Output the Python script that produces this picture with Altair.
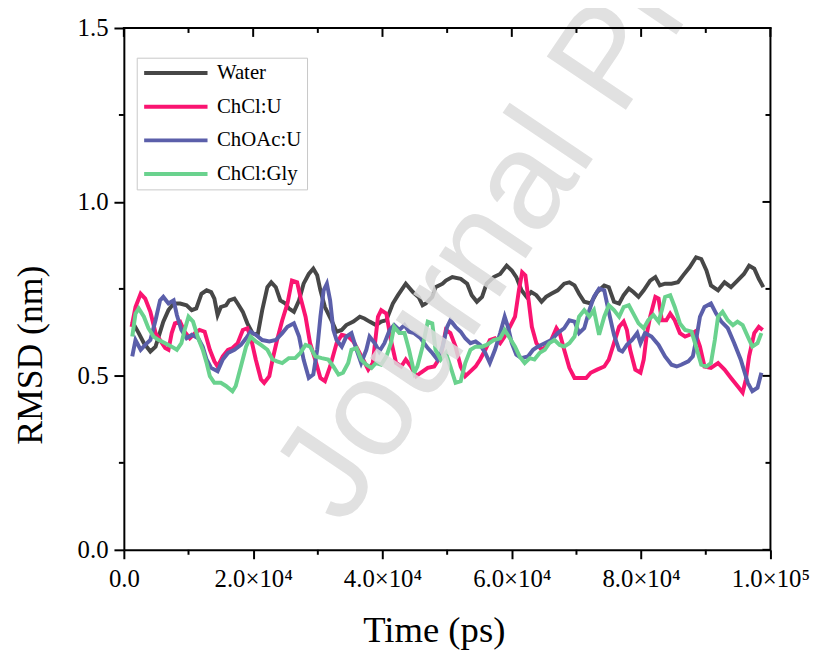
import altair as alt
import pandas as pd

series_names = ["Water", "ChCl:U", "ChOAc:U", "ChCl:Gly"]
colors = ["#474747", "#FA1471", "#5B5FAA", "#6AD28E"]

water = [(1300,0.656),(2300,0.623),(3100,0.594),(4100,0.570),(4900,0.584),(6100,0.656),(6900,0.689),(7700,0.708),(8700,0.708),(9700,0.703),(10500,0.689),(11200,0.694),(12000,0.736),(12800,0.746),(13500,0.741),(14000,0.722),(14500,0.675),(15000,0.698),(15800,0.703),(16300,0.717),(17100,0.722),(17600,0.708),(18400,0.684),(19100,0.651),(19900,0.623),(20700,0.618),(21400,0.689),(22200,0.755),(22800,0.769),(23500,0.755),(24200,0.717),(25000,0.708),(25500,0.694),(26300,0.684),(27100,0.717),(27800,0.765),(28600,0.793),(29300,0.808),(29900,0.789),(30400,0.746),(31100,0.698),(32200,0.656),(32900,0.627),(33700,0.632),(34400,0.646),(35500,0.656),(36500,0.670),(37200,0.665),(38000,0.656),(39000,0.646),(39800,0.656),(40600,0.660),(41600,0.708),(42400,0.732),(42900,0.746),(43600,0.765),(44700,0.741),(45600,0.726),(46200,0.703),(46700,0.708),(47700,0.727),(48200,0.755),(49300,0.765),(49800,0.774),(50800,0.784),(52100,0.779),(53100,0.765),(53800,0.732),(54600,0.713),(55400,0.727),(56100,0.765),(57200,0.784),(58200,0.793),(59200,0.817),(60000,0.803),(60700,0.784),(61500,0.746),(62300,0.727),(63000,0.741),(63800,0.732),(64600,0.713),(65300,0.727),(66100,0.736),(67100,0.746),(68100,0.765),(68900,0.769),(69700,0.760),(70400,0.736),(71200,0.713),(72200,0.708),(73200,0.741),(74300,0.760),(75000,0.755),(75800,0.713),(76600,0.708),(77300,0.732),(78100,0.751),(78800,0.741),(79600,0.727),(80400,0.746),(81400,0.774),(82200,0.784),(82900,0.760),(83700,0.765),(84700,0.765),(85700,0.769),(86500,0.789),(87500,0.812),(88500,0.841),(89300,0.836),(90100,0.803),(90800,0.760),(91900,0.746),(92900,0.769),(93900,0.755),(94900,0.774),(95900,0.793),(96700,0.817),(97500,0.808),(98200,0.779),(98900,0.755)]

chcl_u = [(1200,0.641),(1800,0.698),(2600,0.736),(3300,0.722),(4100,0.684),(4900,0.623),(5600,0.603),(6400,0.580),(6900,0.575),(7400,0.623),(7900,0.651),(8700,0.656),(9400,0.627),(10200,0.608),(11000,0.623),(11700,0.632),(12500,0.627),(13300,0.575),(14000,0.542),(14500,0.527),(15300,0.556),(16100,0.575),(16800,0.580),(17600,0.594),(18400,0.632),(19100,0.637),(19600,0.613),(20400,0.547),(21200,0.490),(21700,0.480),(22500,0.499),(23000,0.547),(23700,0.603),(24500,0.660),(25300,0.708),(26000,0.774),(26800,0.769),(27300,0.727),(28100,0.670),(28800,0.594),(29600,0.547),(30400,0.494),(31100,0.485),(31900,0.527),(32900,0.594),(33700,0.618),(34700,0.613),(35500,0.599),(36200,0.575),(37000,0.547),(37800,0.518),(38500,0.537),(39300,0.670),(39800,0.689),(40600,0.679),(41300,0.603),(42100,0.537),(42900,0.527),(43600,0.547),(44400,0.527),(45200,0.499),(45900,0.509),(47000,0.523),(48000,0.527),(49000,0.556),(49800,0.632),(50500,0.623),(51300,0.584),(52100,0.527),(52800,0.499),(53600,0.513),(54400,0.527),(55100,0.547),(55900,0.575),(56600,0.603),(57400,0.608),(58200,0.594),(58900,0.613),(59700,0.641),(60500,0.670),(61100,0.746),(61600,0.798),(62100,0.789),(62600,0.717),(63100,0.641),(63800,0.594),(64600,0.575),(65300,0.584),(66100,0.603),(66900,0.637),(67400,0.623),(68100,0.575),(68900,0.523),(69700,0.494),(70400,0.494),(71500,0.494),(72200,0.509),(73200,0.518),(74300,0.527),(75000,0.547),(75800,0.594),(76600,0.641),(77300,0.656),(77800,0.632),(78300,0.575),(79100,0.518),(79900,0.509),(80400,0.547),(80900,0.623),(81400,0.670),(82200,0.727),(82700,0.722),(83200,0.660),(83900,0.660),(84500,0.679),(85200,0.660),(86000,0.623),(86800,0.613),(87500,0.618),(88300,0.627),(89100,0.584),(89800,0.527),(90800,0.523),(91900,0.537),(92900,0.518),(93900,0.494),(94900,0.471),(95700,0.452),(96200,0.490),(96700,0.556),(97500,0.623),(98200,0.641),(98800,0.632)]

choac_u = [(1300,0.556),(1800,0.603),(2600,0.575),(3300,0.589),(4100,0.603),(4900,0.660),(5600,0.717),(6100,0.727),(6900,0.708),(7700,0.717),(8200,0.675),(8900,0.632),(9700,0.608),(10500,0.618),(11500,0.608),(12200,0.584),(12800,0.547),(13500,0.523),(14500,0.513),(15300,0.547),(16100,0.566),(17100,0.575),(18100,0.589),(18900,0.608),(19600,0.627),(20400,0.618),(21400,0.603),(22500,0.599),(23500,0.603),(24500,0.623),(25300,0.641),(26300,0.651),(27100,0.613),(27800,0.547),(28600,0.494),(29300,0.504),(29900,0.575),(30400,0.670),(30900,0.746),(31400,0.765),(31900,0.717),(32400,0.632),(32900,0.603),(33700,0.584),(34400,0.613),(35200,0.623),(36000,0.575),(36700,0.537),(37500,0.575),(38000,0.613),(38800,0.594),(39500,0.570),(40300,0.594),(41100,0.632),(41800,0.646),(42600,0.632),(43400,0.646),(44100,0.627),(44900,0.623),(45900,0.608),(47000,0.580),(47700,0.566),(48500,0.547),(49300,0.584),(50000,0.641),(50500,0.660),(51300,0.641),(52100,0.627),(52800,0.608),(53600,0.594),(54400,0.599),(55100,0.589),(55900,0.566),(56600,0.537),(57400,0.575),(58200,0.623),(58900,0.670),(59400,0.641),(60000,0.594),(60700,0.561),(61500,0.551),(62500,0.556),(63300,0.575),(64000,0.584),(65100,0.594),(66100,0.603),(67100,0.623),(68100,0.637),(68900,0.660),(69700,0.656),(70400,0.623),(71200,0.637),(72000,0.689),(72700,0.727),(73500,0.751),(74300,0.746),(75000,0.684),(75800,0.618),(76600,0.575),(77100,0.570),(77800,0.589),(78600,0.603),(79400,0.623),(79900,0.594),(80600,0.623),(81600,0.613),(82700,0.589),(83700,0.556),(84700,0.532),(85500,0.527),(86200,0.532),(87300,0.542),(88000,0.556),(88500,0.603),(89100,0.670),(89800,0.698),(90800,0.708),(91600,0.679),(92400,0.656),(93400,0.637),(94400,0.594),(95400,0.547),(96500,0.480),(97200,0.456),(98000,0.466),(98600,0.509)]

chcl_gly = [(1300,0.613),(1800,0.679),(2300,0.694),(3100,0.670),(3800,0.637),(4600,0.613),(5400,0.603),(6400,0.594),(7400,0.584),(8200,0.575),(8900,0.594),(9400,0.632),(10000,0.670),(10700,0.656),(11500,0.608),(12200,0.575),(12800,0.537),(13300,0.499),(14000,0.480),(15000,0.480),(15800,0.471),(16800,0.456),(17300,0.471),(18100,0.527),(18900,0.584),(19600,0.613),(20400,0.599),(21200,0.589),(22200,0.575),(23000,0.547),(23700,0.542),(24500,0.537),(25500,0.551),(26500,0.551),(27300,0.566),(28100,0.589),(28800,0.584),(29600,0.556),(30600,0.551),(31600,0.547),(32400,0.527),(33200,0.504),(33900,0.509),(34700,0.537),(35200,0.575),(36000,0.580),(36700,0.547),(37500,0.532),(38300,0.523),(39000,0.537),(39800,0.532),(40600,0.556),(41300,0.594),(41800,0.641),(42600,0.623),(43400,0.623),(44100,0.575),(44900,0.509),(45400,0.527),(46200,0.584),(47000,0.656),(47700,0.651),(48200,0.575),(49000,0.547),(49800,0.566),(50500,0.527),(51300,0.480),(52100,0.485),(52800,0.537),(53600,0.575),(54400,0.584),(55400,0.584),(56100,0.589),(57200,0.603),(58200,0.608),(58900,0.632),(59700,0.608),(60500,0.584),(61200,0.556),(62000,0.537),(62800,0.551),(63500,0.547),(64300,0.566),(65100,0.575),(65800,0.594),(66600,0.603),(67400,0.589),(68100,0.584),(68900,0.594),(69700,0.613),(70400,0.670),(71200,0.689),(72000,0.670),(72700,0.689),(73500,0.618),(74300,0.670),(75000,0.703),(75800,0.689),(76600,0.670),(77300,0.698),(78100,0.703),(78800,0.679),(79600,0.651),(80400,0.637),(81100,0.660),(81900,0.675),(82700,0.656),(83200,0.689),(83700,0.727),(84500,0.732),(85200,0.698),(86000,0.651),(86800,0.632),(87800,0.627),(88500,0.584),(89300,0.532),(90100,0.527),(90800,0.537),(91400,0.603),(91900,0.670),(92600,0.684),(93400,0.660),(94200,0.646),(94900,0.656),(95700,0.646),(96500,0.613),(97200,0.584),(98000,0.594),(98600,0.623)]

x_major = [0, 20000, 40000, 60000, 80000, 100000]
x_minor = [10000, 30000, 50000, 70000, 90000]
y_major = [0.0, 0.5, 1.0, 1.5]
y_minor = [0.25, 0.75, 1.25]
x_title = "Time (ps)"
y_title = "RMSD (nm)"
watermark = "Journal Pre-proof"

W, H = 653, 527
SERIF = "Liberation Serif"

rows = []
for name, pts in zip(series_names, [water, chcl_u, choac_u, chcl_gly]):
    for t, v in pts:
        rows.append({"series": name, "t": t, "rmsd": v})
df = pd.DataFrame(rows)

xs = alt.Scale(domain=[0, 100000], nice=False, zero=False)
ys = alt.Scale(domain=[0, 1.5], nice=False)

common = dict(grid=False, domainColor="black", domainWidth=2, tickColor="black",
              tickWidth=2, labelColor="black", labelFont=SERIF, labelFontSize=25,
              titleFont=SERIF, titleColor="black", titleFontWeight="normal")

x_label_expr = ("datum.value == 0 ? '0.0' : (datum.value >= 100000 ? '1.0\u00d710\u2075' : "
                "format(datum.value / 10000, '.1f') + '\u00d710\u2074')")

lines = alt.Chart(df).mark_line(strokeWidth=4).encode(
    x=alt.X("t:Q", scale=xs, axis=alt.Axis(
        values=x_major, labelExpr=x_label_expr, tickSize=9,
        labelPadding=8, title=x_title, titleFontSize=37, titleX=313, titleY=93,
        titleAlign="center", titleBaseline="alphabetic", labelFlush=False,
        labelOverlap=False, **common)),
    y=alt.Y("rmsd:Q", scale=ys, axis=alt.Axis(
        values=y_major, format=".1f", tickSize=10, labelPadding=6,
        title=y_title, titleFontSize=36, titleX=-94, titleY=330, titleAngle=270,
        titleAlign="center", titleBaseline="middle", labelFlush=False, **common)),
    color=alt.Color("series:N", sort=series_names,
                    scale=alt.Scale(domain=series_names, range=colors),
                    legend=alt.Legend(title=None, orient="none", legendX=13, legendY=30,
                                      symbolType="M-1,0L7,0", symbolSize=256,
                                      symbolStrokeWidth=4, labelFont=SERIF,
                                      labelFontSize=21, labelColor="black",
                                      labelOffset=55, rowPadding=12, padding=5,
                                      strokeColor="#c8c8c8", fillColor="white",
                                      labelLimit=0)),
)


def xticks(vals, y0, y1):
    return alt.Chart(pd.DataFrame({"t": vals})).mark_rule(
        color="black", strokeWidth=2).encode(
        x=alt.X("t:Q", scale=xs, axis=None), y=alt.value(y0), y2=alt.value(y1))


def yticks(vals, x0, x1):
    return alt.Chart(pd.DataFrame({"rmsd": vals})).mark_rule(
        color="black", strokeWidth=2).encode(
        y=alt.Y("rmsd:Q", scale=ys, axis=None), x=alt.value(x0), x2=alt.value(x1))


frame = pd.DataFrame({"edge": ["top", "right"]})
top_line = alt.Chart(frame).transform_filter("datum.edge == 'top'").mark_rule(
    color="black", strokeWidth=2, strokeCap="square").encode(
    x=alt.value(0), x2=alt.value(W), y=alt.value(0))
right_line = alt.Chart(frame).transform_filter("datum.edge == 'right'").mark_rule(
    color="black", strokeWidth=2, strokeCap="square").encode(
    x=alt.value(W), y=alt.value(0), y2=alt.value(H))

tick_layers = [
    xticks(x_minor, H, H + 5),      # bottom minor, outward
    xticks(x_major, 0, 9),          # top major, inward
    xticks(x_minor, 0, 5),          # top minor, inward
    yticks(y_minor, -5, 0),         # left minor, outward
    yticks(y_major, W - 8, W),      # right major, inward
    yticks(y_minor, W - 5, W),      # right minor, inward
]

wm = alt.Chart(pd.DataFrame({"w": [watermark]})).mark_text(
    font="Liberation Sans", fontSize=140, angle=304, align="left",
    baseline="alphabetic", color="#dcdcdc", opacity=0.85
).encode(text="w:N", x=alt.value(222), y=alt.value(505))

chart = alt.layer(lines, wm, top_line, right_line, *tick_layers).resolve_axis(
    x="independent", y="independent"
).properties(
    width=W, height=H,
    autosize=alt.AutoSizeParams(type="none"),
    padding={"left": 117, "top": 17, "right": 45, "bottom": 100},
    background="white",
).configure_view(stroke="transparent").configure_axis(
    labelFont=SERIF, labelFontSize=25, titleFont=SERIF
)

chart.save("out.html", embed_options={"renderer": "svg", "actions": False})
